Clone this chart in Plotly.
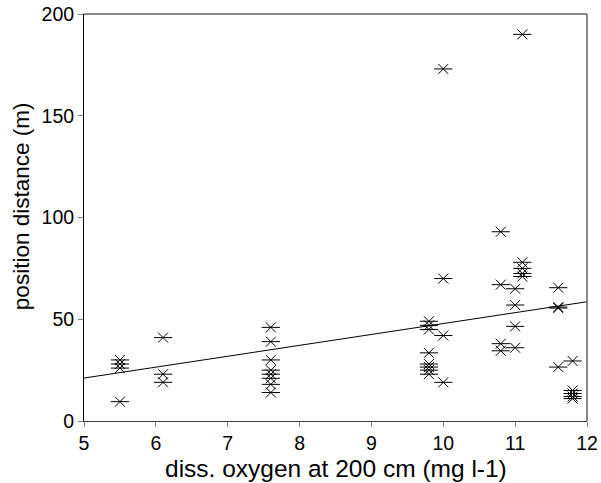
import plotly.graph_objects as go

# data
oxygen = [5.5, 5.5, 5.5, 5.5,
          6.1, 6.1, 6.1,
          7.6, 7.6, 7.6, 7.6, 7.6, 7.6, 7.6, 7.6,
          9.8, 9.8, 9.8, 9.8, 9.8, 9.8, 9.8, 9.8,
          10.0, 10.0, 10.0, 10.0,
          10.8, 10.8, 10.8, 10.8,
          11.0, 11.0, 11.0, 11.0,
          11.1, 11.1, 11.1, 11.1, 11.1,
          11.6, 11.6, 11.6, 11.6,
          11.8, 11.8, 11.8, 11.8, 11.8]
distance = [30, 28, 26, 9.5,
            41, 23, 19,
            46, 39, 30, 25, 23, 21, 18, 14,
            49, 47, 45, 33.5, 28, 26.5, 25, 23,
            173, 70, 42, 19,
            93, 67, 38, 34.5,
            65, 57, 46.5, 36,
            190, 78, 75, 72.5, 71,
            65.5, 56, 55.5, 26.5,
            29.5, 15, 13.5, 12, 11]
trend_x = [5, 12]
trend_y = [21.1, 58.6]

x_ticks = [5, 6, 7, 8, 9, 10, 11, 12]
y_ticks = [0, 50, 100, 150, 200]
x_title = "diss. oxygen at 200 cm (mg l-1)"
y_title = "position distance (m)"

font = "Liberation Sans, Arial, sans-serif"

fig = go.Figure()
fig.add_trace(go.Scatter(x=trend_x, y=trend_y, mode="lines",
                         line=dict(color="black", width=1), hoverinfo="skip"))
fig.add_trace(go.Scatter(x=oxygen, y=distance, mode="markers",
                         marker=dict(symbol="x-thin-open", size=10, color="black",
                                     line=dict(color="black", width=1))))
fig.add_trace(go.Scatter(x=oxygen, y=distance, mode="markers",
                         marker=dict(symbol="line-ew-open", size=13, color="black",
                                     line=dict(color="black", width=1))))

fig.update_layout(
    width=601, height=483,
    margin=dict(l=84, r=14, t=14, b=62),
    paper_bgcolor="white", plot_bgcolor="white",
    showlegend=False,
    font=dict(family=font, size=20, color="black"),
)
fig.update_xaxes(range=[5, 12], tickvals=x_ticks, ticks="outside", ticklen=5,
                 tickcolor="#808080", showgrid=False, zeroline=False,
                 showline=True, linecolor="#404040", linewidth=1, mirror=False,
                 automargin=False, ticklabeloverflow="allow",
                 tickfont=dict(size=19.5))
fig.update_yaxes(range=[0, 200], tickvals=y_ticks, ticks="outside", ticklen=5,
                 tickcolor="#808080", showgrid=False, zeroline=False,
                 showline=True, linecolor="black", linewidth=1, mirror=False,
                 automargin=False, ticklabeloverflow="allow",
                 tickfont=dict(size=19.5))
# axis titles
fig.add_annotation(text=x_title, xref="paper", yref="paper", x=0.5, y=-0.1155,
                   xanchor="center", yanchor="middle", showarrow=False,
                   font=dict(size=24.5))
fig.add_annotation(text=y_title, xref="paper", yref="paper", x=-0.124, y=0.527,
                   xanchor="center", yanchor="middle", showarrow=False,
                   textangle=-90, font=dict(size=22.5))
# top and right frame in gray
fig.add_shape(type="line", xref="paper", yref="paper", x0=0, x1=1, y0=1, y1=1,
              line=dict(color="#606060", width=1.5))
fig.add_shape(type="line", xref="paper", yref="paper", x0=1, x1=1, y0=0, y1=1,
              line=dict(color="#606060", width=1.5))

fig.write_html(
    "out.html",
    config={"displayModeBar": False},
    post_script="document.body.style.margin='0';document.body.style.overflow='hidden';",
)
